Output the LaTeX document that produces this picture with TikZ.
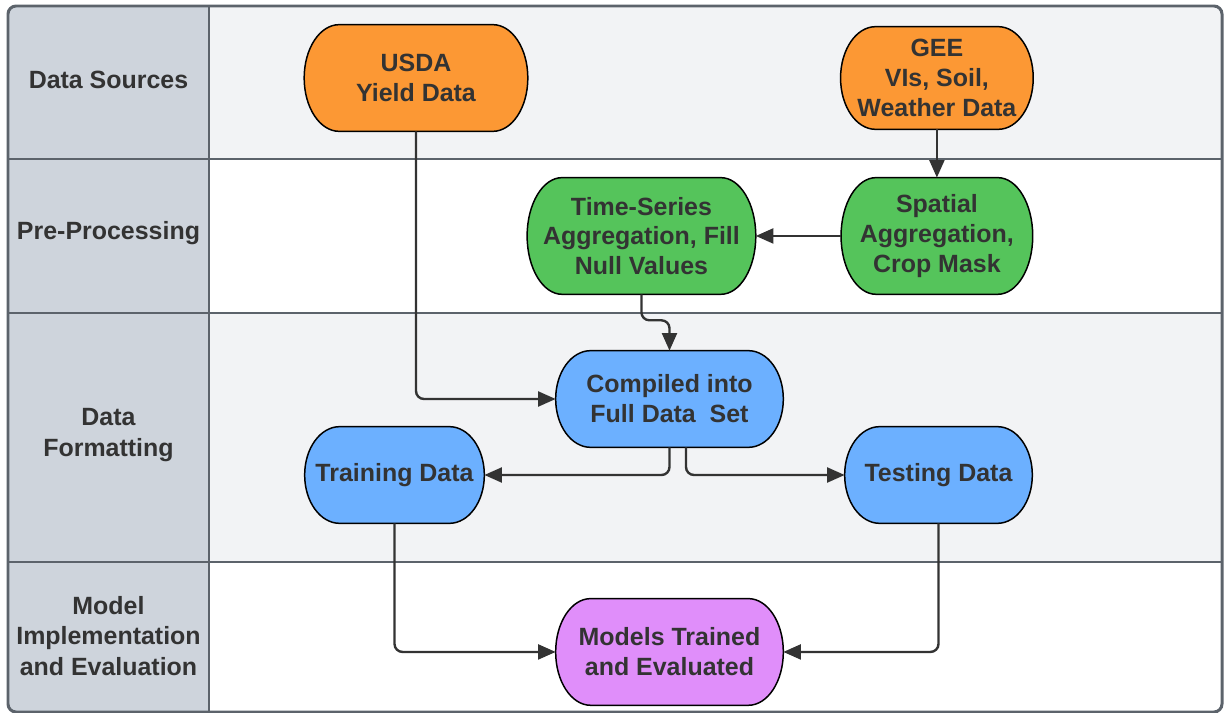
\documentclass[tikz,border=0pt]{standalone}
\usepackage{fontspec}
\setmainfont{Liberation Sans}
\usetikzlibrary{positioning,calc,backgrounds,arrows.meta}

\definecolor{srcorange}{HTML}{FC9834}
\definecolor{prepgreen}{HTML}{55C45B}
\definecolor{fmtblue}{HTML}{6CB0FF}
\definecolor{modpurple}{HTML}{E08EFA}
\definecolor{lanegrey}{HTML}{F2F3F5}
\definecolor{colgrey}{HTML}{CED4DC}
\definecolor{framegrey}{HTML}{5C636B}
\definecolor{txtgrey}{HTML}{333333}

% terminator box behind a node: flat top and bottom, half-ellipse ends
\newcommand{\termbox}[2]{%
  \path[draw=black,line width=0.85pt,fill=#2]
    let \p1=(#1.north west), \p2=(#1.south east), \n1={(\y1-\y2)/2} in
    (\x1+0.7cm,\y1) -- (\x2-0.7cm,\y1)
    arc[start angle=90,end angle=-90,x radius=0.7cm,y radius=\n1]
    -- (\x1+0.7cm,\y2)
    arc[start angle=270,end angle=90,x radius=0.7cm,y radius=\n1]
    -- cycle;}

\begin{document}
\begin{tikzpicture}[x=0.02cm,y=-0.02cm,on grid,
    term/.style={align=center,text=txtgrey,inner sep=0pt,
      font=\bfseries\fontsize{14.2}{17}\selectfont},
    lanetext/.style={align=center,text=txtgrey,
      font=\bfseries\fontsize{14.2}{17.2}\selectfont},
    flow/.style={draw=txtgrey,line width=1.35pt,rounded corners=0.16cm,
      -{Triangle[length=10pt,width=8.5pt]}}]
    \useasboundingbox (0,0) rectangle (1225,713);

    % boxes, text only; the shapes go on the background layer
    \node[term,minimum width=4.46cm,minimum height=2.12cm] (usda) at (416,78) {USDA\\Yield Data};
    \node[term,minimum width=3.84cm,minimum height=2.04cm] (gee) [right=10.42cm of usda] {GEE\\VIs, Soil,\\Weather Data};
    \node[term,minimum width=3.82cm,minimum height=2.32cm] (spatial) [below=3.16cm of gee] {Spatial\\Aggregation,\\Crop Mask};
    \node[term,minimum width=4.56cm,minimum height=2.32cm] (tseries) [left=5.91cm of spatial] {Time-Series\\Aggregation, Fill\\Null Values};
    \node[term,minimum width=4.54cm,minimum height=1.92cm] (compiled) at (669.5,399) {Compiled into\\Full Data\ \ Set};
    \node[term,minimum width=3.58cm,minimum height=1.92cm] (training) at (394.5,475) {Training Data};
    \node[term,minimum width=3.74cm,minimum height=1.92cm] (testing) at (938.5,475) {Testing Data};
    \node[term,minimum width=4.54cm,minimum height=2.12cm] (models) [below=5.06cm of compiled] {Models Trained\\and Evaluated};

    % lane titles
    \node[lanetext] (lsrc)  at (108.5,80)  {Data Sources};
    \node[lanetext] (lprep) at (108.5,233) {Pre-Processing};
    \node[lanetext] (lfmt)  at (108.5,435) {Data\\Formatting};
    \node[lanetext] (lmod)  at (108.5,636) {Model\\Implementation\\and Evaluation};

    \begin{scope}[on background layer]
        \begin{scope}
            \clip[rounded corners=0.16cm] (8,6) rectangle (1222,712);
            \fill[lanegrey] (8,6) rectangle (1222,159);
            \fill[lanegrey] (8,313) rectangle (1222,562);
            \fill[colgrey] (8,6) rectangle (209,712);
        \end{scope}
        \draw[framegrey,line width=1.7pt,rounded corners=0.16cm] (8,6) rectangle (1222,712);
        \draw[framegrey,line width=1.7pt] (209,6) -- (209,712);
        \foreach \yy in {159,313,562}
            \draw[framegrey,line width=1.7pt] (8,\yy) -- (1222,\yy);
        \termbox{usda}{srcorange}
        \termbox{gee}{srcorange}
        \termbox{spatial}{prepgreen}
        \termbox{tseries}{prepgreen}
        \termbox{compiled}{fmtblue}
        \termbox{training}{fmtblue}
        \termbox{testing}{fmtblue}
        \termbox{models}{modpurple}
    \end{scope}

    % connectors
    \draw[flow] (usda.south) |- (compiled.west);
    \draw[flow] (gee) -- (spatial);
    \draw[flow] (spatial) -- (tseries);
    \draw[flow] (tseries.south) -- ++(0,26) -| (compiled.north);
    \draw[flow] (compiled.south) |- (training.east);
    \draw[flow] ([xshift=0.33cm]compiled.south) |- (testing.west);
    \draw[flow] (training.south) |- (models.west);
    \draw[flow] (testing.south) |- (models.east);
\end{tikzpicture}
\end{document}
